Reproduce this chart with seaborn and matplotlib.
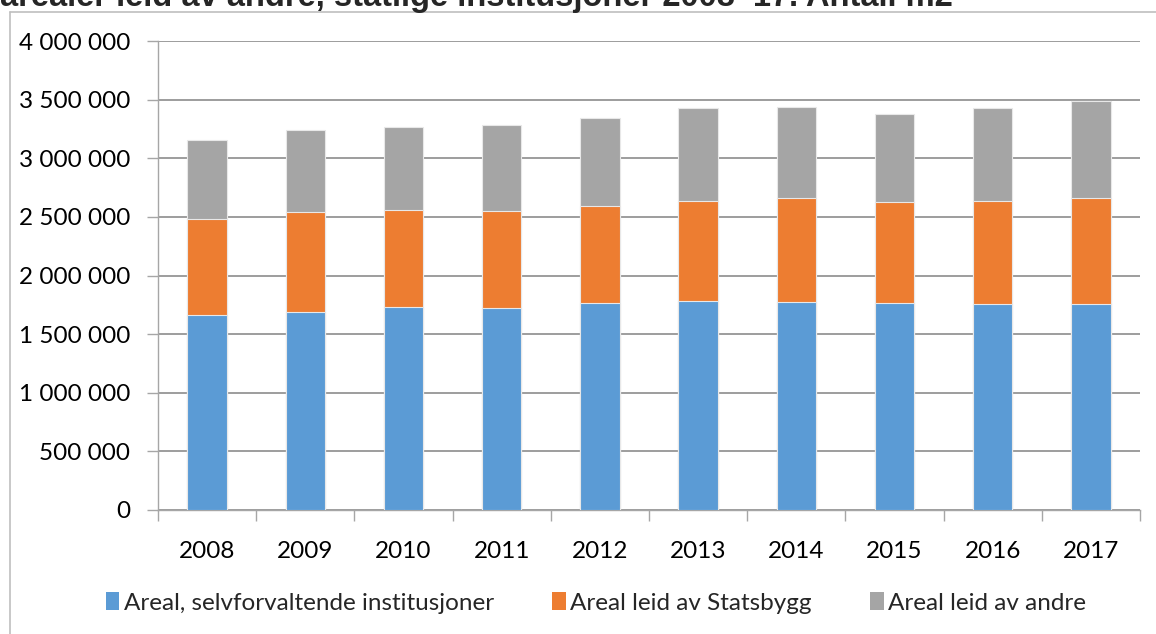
import matplotlib
matplotlib.use("Agg")
import matplotlib.pyplot as plt
from matplotlib.patches import Patch
from matplotlib.lines import Line2D
from matplotlib.ticker import FuncFormatter, FixedLocator
import seaborn as sns
import pandas as pd
import numpy as np

years = ["2008", "2009", "2010", "2011", "2012", "2013", "2014", "2015", "2016", "2017"]
selvforvaltende = [1663000, 1691000, 1734000, 1726000, 1768000, 1780000, 1777000, 1768000, 1760000, 1760000]
leid_statsbygg = [819000, 853000, 827000, 827000, 827000, 858000, 887000, 861000, 878000, 904000]
leid_andre = [674000, 697000, 703000, 731000, 751000, 793000, 776000, 751000, 791000, 824000]

series_names = ["Areal, selvforvaltende institusjoner", "Areal leid av Statsbygg", "Areal leid av andre"]
colors = ["#5B9BD5", "#ED7D31", "#A5A5A5"]

df = pd.DataFrame({
    "year": years,
    "s1": selvforvaltende,
    "s2": leid_statsbygg,
    "s3": leid_andre,
})
df["top1"] = df["s1"]
df["top2"] = df["s1"] + df["s2"]
df["top3"] = df["s1"] + df["s2"] + df["s3"]

sns.set_theme(style="white")
plt.rcParams["font.family"] = ["Lato", "DejaVu Sans"]

W, H = 1156, 634
fig = plt.figure(figsize=(W / 100, H / 100), dpi=100)
ax = fig.add_axes([158 / W, (H - 510) / H, 982 / W, 469 / H])

# Stacked bars: draw cumulative totals from the top segment down
for col, color in zip(["top3", "top2", "top1"], [colors[2], colors[1], colors[0]]):
    sns.barplot(data=df, x="year", y=col, order=years, color=color, width=0.4,
                saturation=1, edgecolor="#E8E8E8", linewidth=0.8, ax=ax, zorder=3)

ax.set_xlim(-0.5, 9.5)
ax.set_ylim(0, 4000000)
ax.set_yticks(np.arange(0, 4000001, 500000))
ax.yaxis.set_major_formatter(FuncFormatter(lambda v, p: f"{int(v):,}".replace(",", " ")))
ax.set_xlabel("")
ax.set_ylabel("")

grid_color = "#8C8C8C"
ax.yaxis.grid(True, color=grid_color, linewidth=1.2, zorder=0)
ax.set_axisbelow(True)
for side in ["top", "right"]:
    ax.spines[side].set_visible(False)
for side in ["left", "bottom"]:
    ax.spines[side].set_color("#A6A6A6")
    ax.spines[side].set_linewidth(1.0)

tick_fs = 17.5
ax.tick_params(axis="y", which="major", direction="out", length=8, width=1,
               color="#A6A6A6", pad=12, labelsize=tick_fs, labelcolor="black", left=True)
ax.tick_params(axis="x", which="major", length=0, pad=22, labelsize=tick_fs, labelcolor="black")
ax.xaxis.set_minor_locator(FixedLocator(np.arange(-0.5, 10, 1.0)))
ax.tick_params(axis="x", which="minor", direction="out", length=8, width=1,
               color="#A6A6A6", bottom=True)

handles = [Patch(facecolor=c, edgecolor="none") for c in colors]
fig.legend(handles, series_names, loc="center", bbox_to_anchor=(596 / W, (H - 603) / H),
           ncol=3, frameon=False, fontsize=tick_fs, handlelength=0.55, handleheight=0.7,
           handletextpad=0.2, columnspacing=2.4, borderaxespad=0)

# Chart frame (left and top edges)
frame_color = "#BFBFBF"
fig.add_artist(Line2D([10 / W, 10 / W], [0, (H - 12) / H], color=frame_color, lw=1.2,
                      transform=fig.transFigure))
fig.add_artist(Line2D([10 / W, 1.0], [(H - 12) / H, (H - 12) / H], color=frame_color, lw=1.2,
                      transform=fig.transFigure))

fig.text(0, (H - 6) / H, "arealer leid av andre, statlige institusjoner 2008–17. Antall m2",
         fontsize=23.5, fontweight="bold", family=["Liberation Sans", "DejaVu Sans"],
         ha="left", va="baseline")

fig.savefig("out.png", dpi=100)
